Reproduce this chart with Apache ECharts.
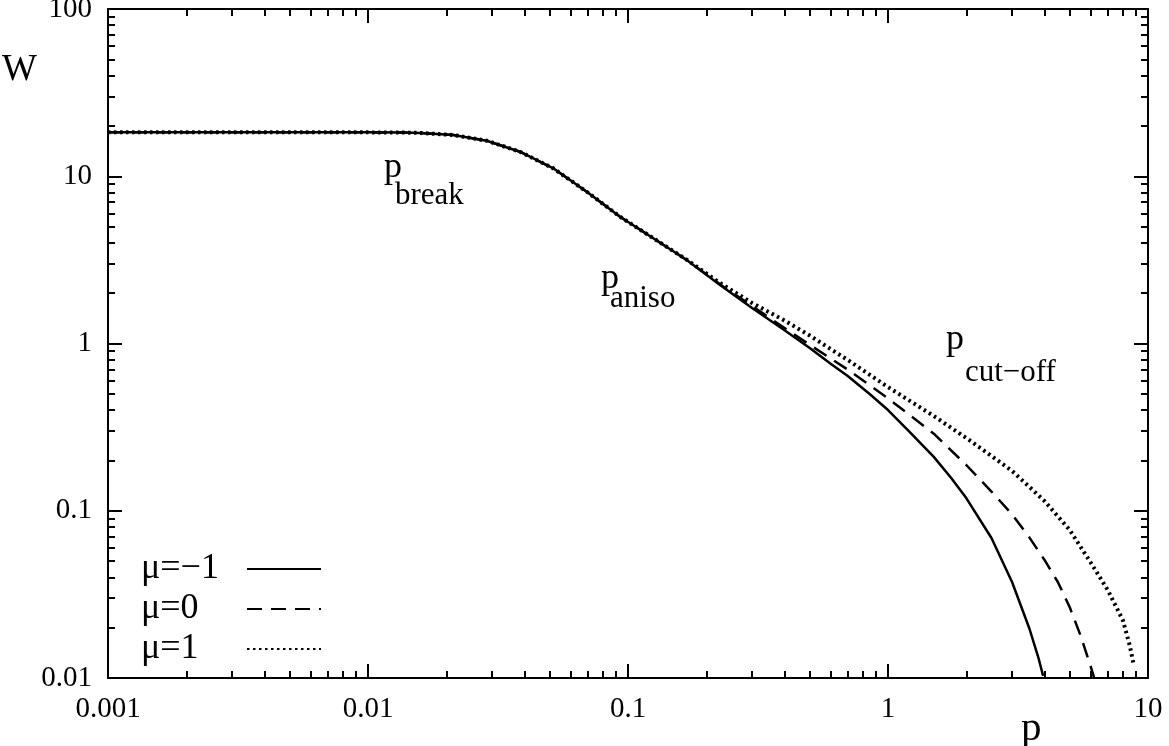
<!DOCTYPE html>
<html>
<head>
<meta charset="utf-8">
<script src="https://cdn.jsdelivr.net/npm/echarts@6/dist/echarts.min.js"></script>
<style>
  html, body { margin: 0; padding: 0; background: #fff; }
  #chart { width: 1169px; height: 746px; }
</style>
</head>
<body>
<div id="chart"></div>
<script>
const FONT = '"Liberation Serif", "Times New Roman", serif';

// mu = -1 (solid)
const pSolid = [0.001, 0.002, 0.005, 0.01, 0.0135, 0.0159, 0.0213, 0.0286, 0.0384, 0.0516, 0.0694, 0.0932, 0.1251, 0.1682, 0.2259, 0.3, 0.4, 0.5, 0.6, 0.7, 0.85, 1, 1.2, 1.5, 1.75, 2, 2.5, 3, 3.5, 3.8, 3.95];
const wSolid = [18.3, 18.3, 18.3, 18.3, 18.25, 18.15, 17.65, 16.31, 14.02, 11.15, 8.08, 5.73, 4.26, 3.16, 2.24, 1.63, 1.2, 0.94, 0.759, 0.639, 0.499, 0.4, 0.3, 0.21, 0.157, 0.119, 0.0687, 0.0375, 0.0197, 0.013, 0.0103];

// mu = 0 (dashed)
const pDashed = [0.001, 0.002, 0.005, 0.01, 0.0135, 0.0159, 0.0213, 0.0286, 0.0384, 0.0516, 0.0694, 0.0932, 0.1251, 0.1682, 0.2259, 0.3, 0.4, 0.5, 0.7, 1, 1.5, 2, 2.5, 3, 3.5, 4, 4.5, 5, 5.5, 6, 6.2];
const wDashed = [18.3, 18.3, 18.3, 18.3, 18.25, 18.15, 17.65, 16.31, 14.02, 11.15, 8.08, 5.73, 4.26, 3.16, 2.26, 1.676, 1.238, 0.982, 0.698, 0.47, 0.289, 0.1877, 0.1303, 0.0952, 0.0691, 0.0508, 0.0375, 0.0265, 0.018, 0.0119, 0.0101];

// mu = 1 (dotted)
const pDotted = [0.001, 0.002, 0.005, 0.01, 0.0135, 0.0159, 0.0213, 0.0286, 0.0384, 0.0516, 0.0694, 0.0932, 0.1251, 0.1682, 0.2259, 0.3, 0.4, 0.5, 0.7, 1, 1.5, 2, 2.5, 3, 3.5, 4, 5, 6, 7, 8, 8.5, 8.8];
const wDotted = [18.3, 18.3, 18.3, 18.3, 18.25, 18.15, 17.65, 16.31, 14.02, 11.15, 8.08, 5.73, 4.26, 3.17, 2.3, 1.747, 1.372, 1.116, 0.797, 0.549, 0.3685, 0.2723, 0.2126, 0.1729, 0.1387, 0.1143, 0.0767, 0.0494, 0.0336, 0.0222, 0.01575, 0.01213];

const legendNames = ["μ=−1", "μ=0", "μ=1"];

const xMajorTicks = [0.001, 0.01, 0.1, 1, 10];
const xMinorTicks = [0.002, 0.003, 0.004, 0.005, 0.006, 0.007, 0.008, 0.009,
  0.02, 0.03, 0.04, 0.05, 0.06, 0.07, 0.08, 0.09,
  0.2, 0.3, 0.4, 0.5, 0.6, 0.7, 0.8, 0.9,
  2, 3, 4, 5, 6, 7, 8, 9];
const yMajorTicks = [0.01, 0.1, 1, 10, 100];
const yMinorTicks = [0.02, 0.03, 0.04, 0.05, 0.06, 0.07, 0.08, 0.09,
  0.2, 0.3, 0.4, 0.5, 0.6, 0.7, 0.8, 0.9,
  2, 3, 4, 5, 6, 7, 8, 9,
  20, 30, 40, 50, 60, 70, 80, 90];

function pairs(xs, ys) {
  return xs.map((x, i) => [x, ys[i]]);
}

function logAxis(position, min, max, ticks, length, showLine, showLabels) {
  return {
    type: "log",
    logBase: 10,
    position: position,
    min: min,
    max: max,
    axisLine: { show: showLine, onZero: false, lineStyle: { color: "#000", width: 2 } },
    axisTick: {
      show: true,
      inside: true,
      length: length,
      customValues: ticks,
      lineStyle: { color: "#000", width: 2 },
    },
    axisLabel: showLabels
      ? {
          show: true,
          customValues: ticks,
          color: "#000",
          fontFamily: FONT,
          fontSize: 29,
          margin: position === "left" ? 16 : 17,
          formatter: (value) => String(+Number(value).toPrecision(3)),
        }
      : { show: false },
    splitLine: { show: false },
    minorTick: { show: false },
    minorSplitLine: { show: false },
  };
}

function lineSeries(name, data, type, width) {
  return {
    name: name,
    type: "line",
    data: data,
    symbol: "none",
    smooth: false,
    silent: true,
    lineStyle: { color: "#000", width: width, type: type, cap: "butt", join: "round" },
    itemStyle: { color: "#000" },
  };
}

let myChart = echarts.init(document.getElementById("chart"));
let option;

option = {
  backgroundColor: "#fff",
  animation: false,
  grid: { left: 108, right: 21, top: 9, bottom: 68, outerBoundsMode: "none" },
  xAxis: [
    logAxis("bottom", 0.001, 10, xMajorTicks, 14, true, true),
    logAxis("bottom", 0.001, 10, xMinorTicks, 7, false, false),
    logAxis("top", 0.001, 10, xMajorTicks, 14, true, false),
    logAxis("top", 0.001, 10, xMinorTicks, 7, false, false),
  ],
  yAxis: [
    logAxis("left", 0.01, 100, yMajorTicks, 14, true, true),
    logAxis("left", 0.01, 100, yMinorTicks, 7, false, false),
    logAxis("right", 0.01, 100, yMajorTicks, 14, true, false),
    logAxis("right", 0.01, 100, yMinorTicks, 7, false, false),
  ],
  legend: {
    data: legendNames,
    orient: "vertical",
    left: 136,
    top: 546,
    align: "right",
    itemWidth: 74,
    itemHeight: 14,
    itemGap: 4,
    itemStyle: { opacity: 0 },
    formatter: (name) => `{t|${name}}`,
    textStyle: {
      color: "#000",
      fontFamily: FONT,
      fontSize: 36,
      rich: {
        t: { width: 101, align: "left", fontFamily: FONT, fontSize: 36, lineHeight: 32, color: "#000" },
      },
    },
  },
  graphic: [
    { type: "text", left: 2, top: 52, style: { text: "W", font: "37px " + FONT, fill: "#000" } },
    { type: "text", left: 1021, top: 709, style: { text: "p", font: "41px " + FONT, fill: "#000" } },
    { type: "text", left: 384, top: 150, style: { text: "p", font: "36px " + FONT, fill: "#000" } },
    { type: "text", left: 395, top: 180, style: { text: "break", font: "31px " + FONT, fill: "#000" } },
    { type: "text", left: 601, top: 261, style: { text: "p", font: "36px " + FONT, fill: "#000" } },
    { type: "text", left: 610, top: 283, style: { text: "aniso", font: "31px " + FONT, fill: "#000" } },
    { type: "text", left: 946, top: 322, style: { text: "p", font: "36px " + FONT, fill: "#000" } },
    { type: "text", left: 965, top: 357, style: { text: "cut−off", font: "31px " + FONT, fill: "#000" } },
  ],
  series: [
    lineSeries(legendNames[0], pairs(pSolid, wSolid), "solid", 2.5),
    lineSeries(legendNames[1], pairs(pDashed, wDashed), [15, 9], 2.5),
    lineSeries(legendNames[2], pairs(pDotted, wDotted), [2.5, 3.5], 4),
  ],
};

option && myChart.setOption(option);
</script>
</body>
</html>
